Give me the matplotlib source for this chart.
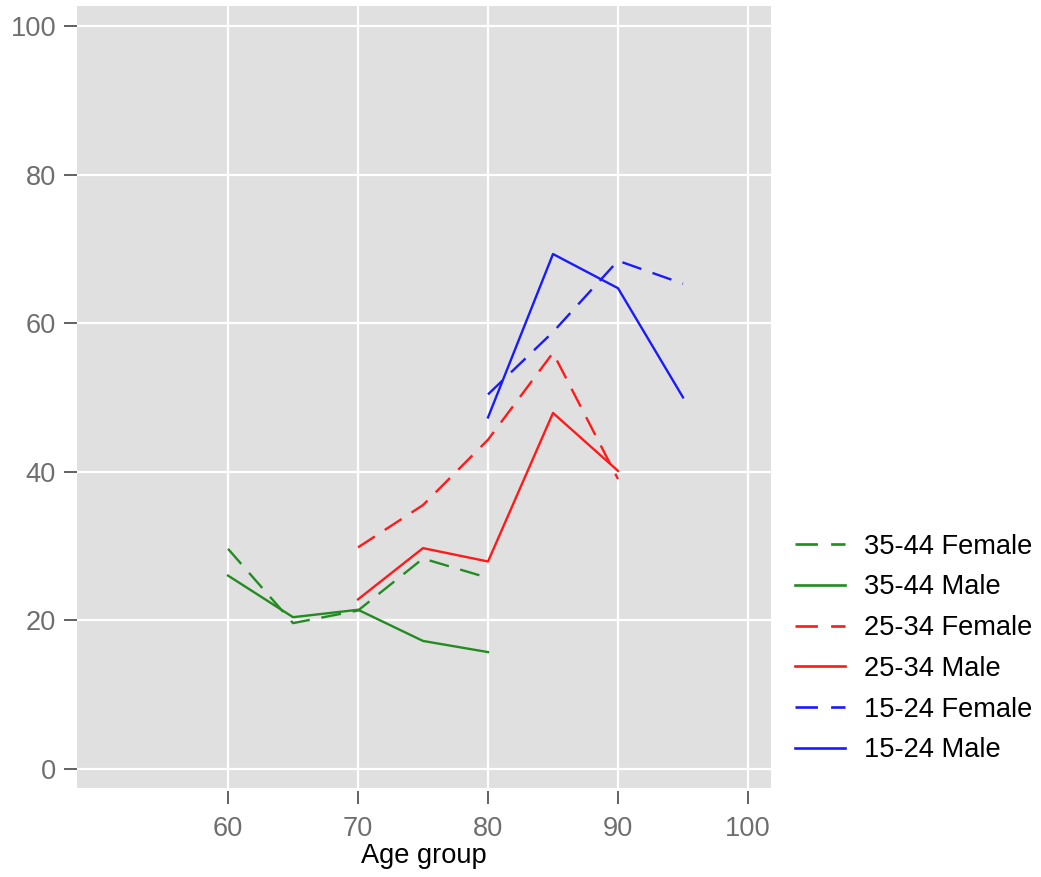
import matplotlib
matplotlib.use("Agg")
import matplotlib.pyplot as plt

plt.rcParams['font.family'] = ['Liberation Sans', 'DejaVu Sans']

# ---- data ----
x_3544 = [60, 65, 70, 75, 80]
f_3544 = [29.6, 19.6, 21.3, 28.3, 25.7]
m_3544 = [26.0, 20.4, 21.4, 17.2, 15.7]

x_2534 = [70, 75, 80, 85, 90]
f_2534 = [29.8, 35.5, 44.3, 56.0, 39.0]
m_2534 = [22.8, 29.7, 27.9, 47.9, 40.1]

x_1524 = [80, 85, 90, 95]
f_1524 = [50.4, 58.8, 68.4, 65.3]
m_1524 = [47.3, 69.3, 64.7, 50.0]

series_labels = ["35-44 Female", "35-44 Male", "25-34 Female",
                 "25-34 Male", "15-24 Female", "15-24 Male"]
x_ticks = [60, 70, 80, 90, 100]
y_ticks = [0, 20, 40, 60, 80, 100]

GREEN = '#228B22'
RED = '#FF1a1a'
BLUE = '#1a1aFF'

fig = plt.figure(figsize=(10.41, 8.77), dpi=100)
ax = fig.add_axes([77/1041, 1-788/877, (771-77)/1041, (788-6)/877])
ax.set_facecolor('#e0e0e0')

lw = 1.7
dash = (8.5, 5.0)
series = [
    (x_3544, f_3544, GREEN, True),
    (x_3544, m_3544, GREEN, False),
    (x_2534, f_2534, RED, True),
    (x_2534, m_2534, RED, False),
    (x_1524, f_1524, BLUE, True),
    (x_1524, m_1524, BLUE, False),
]
for (xs, ys, c, dashed), lab in zip(series, series_labels):
    if dashed:
        ax.plot(xs, ys, color=c, lw=lw, dashes=dash, label=lab)
    else:
        ax.plot(xs, ys, color=c, lw=lw, label=lab)

ax.set_xlim(48.38, 101.77)
ax.set_ylim(-2.6, 102.7)
ax.set_xticks(x_ticks)
ax.set_yticks(y_ticks)
ax.grid(True, color='white', lw=1.6)
ax.set_axisbelow(True)
for s in ax.spines.values():
    s.set_visible(False)
ax.spines['bottom'].set_position(('outward', 2.5))

ax.tick_params(axis='both', labelsize=19.6, labelcolor='#6e6e6e', color='#555555',
               width=1.3, length=9.5)
ax.tick_params(axis='y', pad=5.5)
ax.tick_params(axis='x', pad=8)
ax.set_xlabel("Age group", fontsize=19.6, color='black', labelpad=1)

leg = fig.legend(loc='center left', bbox_to_anchor=(795/1041, 1-648.5/877),
                 frameon=False, fontsize=19.6, handlelength=1.85,
                 handletextpad=0.7, labelspacing=0.54, borderpad=0,
                 borderaxespad=0)
for h in leg.get_lines():
    h.set_linewidth(1.9)

fig.savefig("out.png", dpi=100)
